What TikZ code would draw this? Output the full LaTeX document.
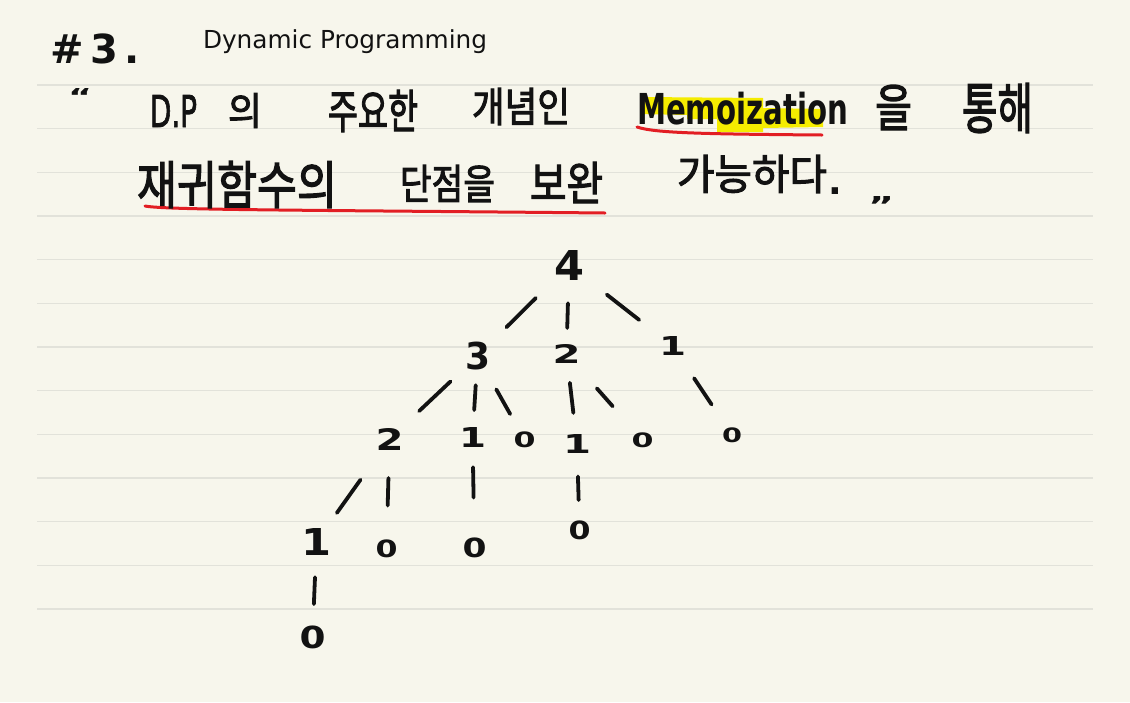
\documentclass[tikz,border=0pt]{standalone}
\usepackage{fontspec}
\setmainfont{DejaVu Sans}
\newfontfamily\krfont[FakeBold=2.5]{Noto Sans CJK KR}
\newfontfamily\latfont[FakeBold=2]{DejaVu Sans}
\definecolor{paper}{RGB}{247,246,236}
\definecolor{rulecol}{RGB}{226,226,218}
\definecolor{hlcol}{RGB}{245,236,0}
\definecolor{pen}{RGB}{18,18,18}
\definecolor{redpen}{RGB}{226,30,36}
\newcommand{\myfit}[3]{\resizebox*{#1pt}{#2pt}{#3}}
\begin{document}
\begin{tikzpicture}[x=1pt,y=-1pt,
  txt/.style={inner sep=0pt, outer sep=0pt, text=pen, anchor=south west},
  kr/.style={txt, font=\krfont\fontsize{40}{40}\selectfont},
  lat/.style={txt, font=\latfont\fontsize{40}{40}\selectfont},
  latb/.style={txt, font=\fontsize{40}{40}\selectfont\bfseries},
  dig/.style={inner sep=0pt, outer sep=0pt, text=pen, anchor=center, font=\fontsize{36}{36}\selectfont\bfseries},
  link/.style={draw=pen, line width=3.8pt, line cap=round},
  ruling/.style={draw=rulecol, line width=1.3pt},
  redline/.style={draw=redpen, line width=3pt, line cap=round}]
\useasboundingbox (0,0) rectangle (1130,702);
\fill[paper] (0,0) rectangle (1130,702);
% ruled lines
\foreach \k in {0,...,12}{
  \draw[ruling] (37,{85+43.67*\k}) -- (1093,{85+43.67*\k});
}
% highlight
\fill[hlcol] (642,97) -- (763,98) -- (763,108) -- (823,109) -- (823,127) -- (763,128) -- (763,132) -- (717,132) -- (717,119) -- (687,119) -- (687,115) -- (642,114) -- cycle;
% red underlines
\draw[redline] (637,127) .. controls (655,133) and (700,134) .. (822,135);
\draw[redline] (145,206) .. controls (165,210) and (300,210) .. (605,213);
% title
\node[txt, anchor=base west, font=\fontsize{40}{40}\selectfont\bfseries] (title) at (50,63) {\#\,3\hspace{6pt}.};
\node[txt, anchor=base west, font=\fontsize{25}{25}\selectfont] (sub) at (203,48) {\resizebox{284pt}{!}{Dynamic Programming}};
% line 1
\node[latb] (oq) at (68,104) {\myfit{24}{16}{“}};
\node[lat] (dp) at (150,127) {\myfit{47}{32}{D.P}};
\node[kr] (w1) at (228,128) {\myfit{34}{35}{의}};
\node[kr] (w2) at (328,132) {\myfit{90}{42}{주요한}};
\node[kr] (w3) at (472,125) {\myfit{98}{37}{개념인}};
\node[latb] (memo) at (637,125) {\myfit{211}{33}{Memoization}};
\node[kr] (w4) at (875,130) {\myfit{37}{45}{을}};
\node[kr] (w5) at (962,133) {\myfit{71}{50}{통해}};
% line 2
\node[kr] (w6) at (137,208) {\myfit{200}{47}{재귀함수의}};
\node[kr] (w7) at (400,202) {\myfit{95}{37}{단점을}};
\node[kr] (w8) at (530,203) {\myfit{73}{41}{보완}};
\node[kr] (w9) at (677,193) {\myfit{150}{38}{가능하다}};
\node[inner sep=0pt, text=pen, font=\fontsize{36}{36}\selectfont\bfseries] (dot) at (835,191) {.};
\node[latb] (cq) at (868,214) {\myfit{26}{18}{”}};
% tree
\node[dig] (n4) at (569,265) {\myfit{30}{30}{4}};
\node[dig] (n3) at (477.5,356) {\myfit{25}{28}{3}};
\node[dig] (n2m) at (566.5,354) {\myfit{28}{19}{2}};
\node[dig] (n1r) at (672.5,346) {\myfit{27}{19}{1}};
\node[dig] (n2l) at (389.5,439) {\myfit{28}{22}{2}};
\node[dig] (n1a) at (472.5,437.5) {\myfit{27}{20}{1}};
\node[dig] (n0a) at (524.5,439.5) {\myfit{22}{16}{0}};
\node[dig] (n1b) at (577,444) {\myfit{28}{19}{1}};
\node[dig] (n0b) at (642.5,440) {\myfit{22}{15}{0}};
\node[dig] (n0c) at (732,435) {\myfit{20}{15}{0}};
\node[dig] (n1c) at (316.5,541.5) {\myfit{30}{27}{1}};
\node[dig] (n0d) at (386.5,548.5) {\myfit{22}{18}{0}};
\node[dig] (n0e) at (474.5,547.5) {\myfit{24}{20}{0}};
\node[dig] (n0f) at (579.5,530) {\myfit{22}{19}{0}};
\node[dig] (n0g) at (312.5,637) {\myfit{26}{23}{0}};
% connectors
\draw[link, shorten <=46.7pt, shorten >=40.7pt] (n4.center) -- (n3.center);
\draw[link, shorten <=38.3pt, shorten >=26pt] (n4.center) -- (n2m.center);
\draw[link, shorten <=48pt, shorten >=42.3pt] (n4.center) -- (n1r.center);
\draw[link, shorten <=37.2pt, shorten >=40.7pt] (n3.center) -- (n2l.center);
\draw[link, shorten <=29.2pt, shorten >=27.5pt] (n3.center) -- (n1a.center);
\draw[link, shorten <=38.3pt, shorten >=29.2pt] (n3.center) -- (n0a.center);
\draw[link, shorten <=29pt, shorten >=31.3pt] (n2m.center) -- (n1b.center);
\draw[link, shorten <=45.8pt, shorten >=45pt] (n2m.center) -- (n0b.center);
\draw[link, shorten <=38.8pt, shorten >=36.7pt] (n1r.center) -- (n0c.center);
\draw[link, shorten <=50pt, shorten >=35.1pt] (n2l.center) -- (n1c.center);
\draw[link, shorten <=39pt, shorten >=43pt] (n2l.center) -- (n0d.center);
\draw[link, shorten <=29.7pt, shorten >=50pt] (n1a.center) -- (n0e.center);
\draw[link, shorten <=32.5pt, shorten >=30pt] (n1b.center) -- (n0f.center);
\draw[link, shorten <=35.8pt, shorten >=33pt] (n1c.center) -- (n0g.center);
\end{tikzpicture}
\end{document}
